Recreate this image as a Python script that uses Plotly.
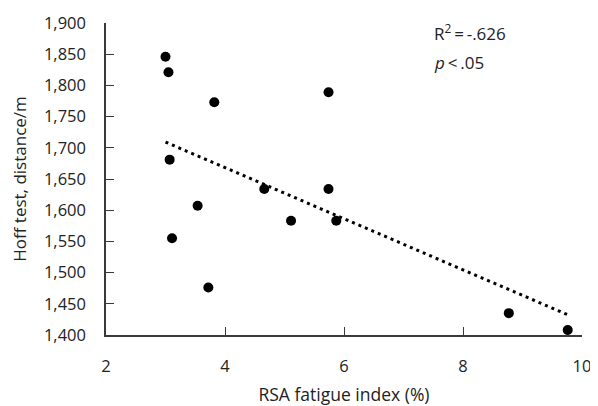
import numpy as np
import plotly.graph_objects as go

# Data
rsa_fatigue_index = [3.00, 3.05, 3.82, 3.07, 4.66, 5.74, 5.74, 3.54, 3.11, 3.72, 5.11, 5.87, 8.77, 9.76]
hoff_distance = [1846, 1821, 1773, 1681, 1634, 1789, 1634, 1607, 1555, 1476, 1583, 1583, 1435, 1408]

x_ticks = [2, 4, 6, 8, 10]
y_ticks = [1400, 1450, 1500, 1550, 1600, 1650, 1700, 1750, 1800, 1850, 1900]
y_tick_labels = [f"{v:,}" for v in y_ticks]

# Linear trend line fitted from the data
slope, intercept = np.polyfit(rsa_fatigue_index, hoff_distance, 1)
trend_x = [min(rsa_fatigue_index), max(rsa_fatigue_index)]
trend_y = [slope * v + intercept for v in trend_x]

FONT = "Open Sans"
AX_COLOR = "#3a3a3a"
TXT = "#222222"

fig = go.Figure()
fig.add_trace(go.Scatter(
    x=trend_x, y=trend_y, mode="lines",
    line=dict(color="black", width=3, dash="3px,4px"),
    hoverinfo="skip", showlegend=False,
))
fig.add_trace(go.Scatter(
    x=rsa_fatigue_index, y=hoff_distance, mode="markers",
    marker=dict(color="black", size=10),
    showlegend=False,
))

fig.add_annotation(x=0.684, y=1.0, xref="paper", yref="paper", xanchor="left", yanchor="middle",
                   yshift=-9, text="R<sup>2</sup>\u2009=\u2009-.626", showarrow=False,
                   font=dict(family=FONT, size=17, color=TXT))
fig.add_annotation(x=0.684, y=1.0, xref="paper", yref="paper", xanchor="left", yanchor="middle",
                   yshift=-39, text="<i>p</i>\u2009<\u2009.05", showarrow=False,
                   font=dict(family=FONT, size=17, color=TXT))

# The page body has an 8px margin, so the figure is sized to fit the window.
fig.update_layout(
    width=590, height=398,
    margin=dict(l=98, r=16, t=15, b=71),
    paper_bgcolor="white", plot_bgcolor="white",
    font=dict(family=FONT, size=16.5, color=TXT),
    xaxis=dict(
        range=[2, 10], tickvals=x_ticks, ticktext=[str(v) for v in x_ticks],
        showgrid=False, zeroline=False, automargin=False,
        showline=True, linecolor=AX_COLOR, linewidth=1.5,
        ticks="inside", ticklen=8, tickcolor=AX_COLOR, tickwidth=1.2,
        ticklabelstandoff=15,
        title=dict(text="RSA fatigue index (%)", standoff=20, font=dict(size=17.5)),
    ),
    yaxis=dict(
        range=[1400, 1900], tickvals=y_ticks, ticktext=y_tick_labels,
        showgrid=False, zeroline=False, automargin=False,
        showline=True, linecolor=AX_COLOR, linewidth=1.5,
        ticks="inside", ticklen=8, tickcolor=AX_COLOR, tickwidth=1.2,
        ticklabelstandoff=15,
        title=dict(text="Hoff test, distance/m", standoff=17, font=dict(size=17)),
    ),
)

fig.write_html("out.html")
